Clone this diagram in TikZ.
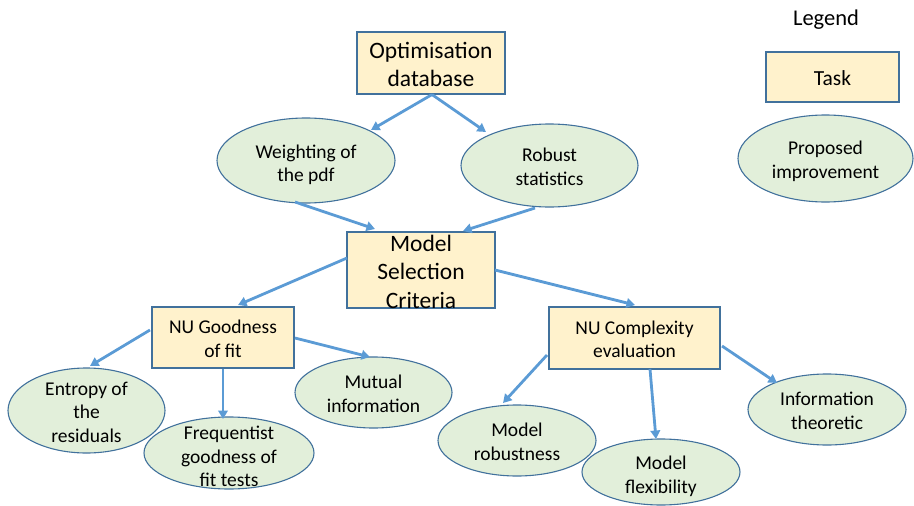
\documentclass[tikz,border=0pt]{standalone}
\usepackage{fontspec}
\setmainfont{Carlito}
\usetikzlibrary{arrows.meta,calc,shapes.geometric}
\definecolor{taskfill}{HTML}{FFF2CC}
\definecolor{ideafill}{HTML}{E2EFDA}
\definecolor{edgeblue}{HTML}{41719C}
\definecolor{flow}{HTML}{5B9BD5}
\begin{document}
\begin{tikzpicture}[x=1pt,y=-1pt,
  task/.style={draw=edgeblue, line width=1.1pt, fill=taskfill, rectangle, inner sep=0pt},
  idea/.style={draw=edgeblue, line width=1.1pt, fill=ideafill, ellipse, inner sep=0pt},
  small/.style={font=\fontsize{19.5pt}{23.5pt}\selectfont, align=center, inner sep=0pt, yshift=-1.5pt},
  big/.style={font=\fontsize{23.5pt}{28.5pt}\selectfont, align=center, inner sep=0pt, yshift=-1.5pt},
  link/.style={draw=flow, line width=2.8pt, -{Triangle[length=8.5pt,width=9.5pt]}}]
\useasboundingbox (0,0) rectangle (914,506);

% task boxes
\node[task, minimum width=148pt, minimum height=62pt] (opt) at (431,63) {};
\node[task, minimum width=148pt, minimum height=76pt] (msc) at (421,270) {};
\node[task, minimum width=142pt, minimum height=61pt] (good) at (223,337.5) {};
\node[task, minimum width=171pt, minimum height=62pt] (cplx) at (634.5,338) {};
\node[task, minimum width=133pt, minimum height=50pt] (task) at (832.5,77) {};

% proposed improvements
\node[idea, minimum width=178pt, minimum height=85pt] (weight) at (306,160.5) {};
\node[idea, minimum width=177pt, minimum height=83pt] (robust) at (549.5,165.5) {};
\node[idea, minimum width=157pt, minimum height=85pt] (entropy) at (86.5,410.5) {};
\node[idea, minimum width=170pt, minimum height=72pt] (freq) at (229,453) {};
\node[idea, minimum width=157pt, minimum height=71pt] (mutual) at (373.5,392.5) {};
\node[idea, minimum width=158pt, minimum height=71pt] (mrob) at (517,440.5) {};
\node[idea, minimum width=158pt, minimum height=66pt] (mflex) at (661,472) {};
\node[idea, minimum width=158pt, minimum height=71pt] (info) at (827,409.5) {};
\node[idea, minimum width=175pt, minimum height=87pt] (prop) at (825.5,158.5) {};

% labels
\node[big] (opt-t) at (opt) {Optimisation\\database};
\node[big] (msc-t) at (msc) {Model\\Selection\\Criteria};
\node[small] (good-t) at (good) {NU Goodness\\of fit};
\node[small] (cplx-t) at (cplx) {NU Complexity\\evaluation};
\node[big, font=\fontsize{21.5pt}{26pt}\selectfont] (task-t) at (task) {Task};
\node[small] (weight-t) at ($(weight)+(0,3)$) {Weighting of\\the pdf};
\node[small] (robust-t) at (robust) {Robust\\statistics};
\node[small] (entropy-t) at (entropy) {Entropy of\\the\\residuals};
\node[small] (freq-t) at ($(freq)+(0,2)$) {Frequentist\\goodness of\\fit tests};
\node[small] (mutual-t) at (mutual) {Mutual\\information};
\node[small] (mrob-t) at (mrob) {Model\\robustness};
\node[small] (mflex-t) at ($(mflex)+(0,3)$) {Model\\flexibility};
\node[small] (info-t) at (info) {Information\\theoretic};
\node[small] (prop-t) at ($(prop)+(0,1.5)$) {Proposed\\improvement};
\node[big, font=\fontsize{22.5pt}{27pt}\selectfont] (legend) at (826,18) {Legend};

% connectors
\draw[link] ($(opt.south)+(1,0)$) -- ($(weight)+(65,-30.5)$);
\draw[link] ($(opt.south)+(1,0)$) -- ($(robust)+(-63.5,-33.5)$);
\draw[link] ($(weight)+(-11,41.5)$) -- ($(msc)+(-46,-41)$);
\draw[link] ($(robust)+(-14.5,42.5)$) -- ($(msc)+(42,-39)$);
\draw[link] ($(msc)+(-74,-12)$) -- ($(good)+(15,-32.5)$);
\draw[link] ($(msc)+(74,0)$) -- ($(cplx)+(0.5,-33)$);
\draw[link] ($(good)+(-73,-7.5)$) -- ($(entropy)+(3.5,-44.5)$);
\draw[link] (good.south) -- ($(freq)+(-6,-34)$);
\draw[link] ($(good)+(72,0.5)$) -- ($(mutual)+(-3.5,-35.5)$);
\draw[link] ($(cplx)+(-87.5,17)$) -- ($(mrob)+(-14,-37.5)$);
\draw[link] ($(cplx)+(15.5,31)$) -- ($(mflex)+(-5,-33)$);
\draw[link] ($(cplx)+(87.5,8)$) -- ($(info)+(-50,-26.5)$);
\end{tikzpicture}
\end{document}
